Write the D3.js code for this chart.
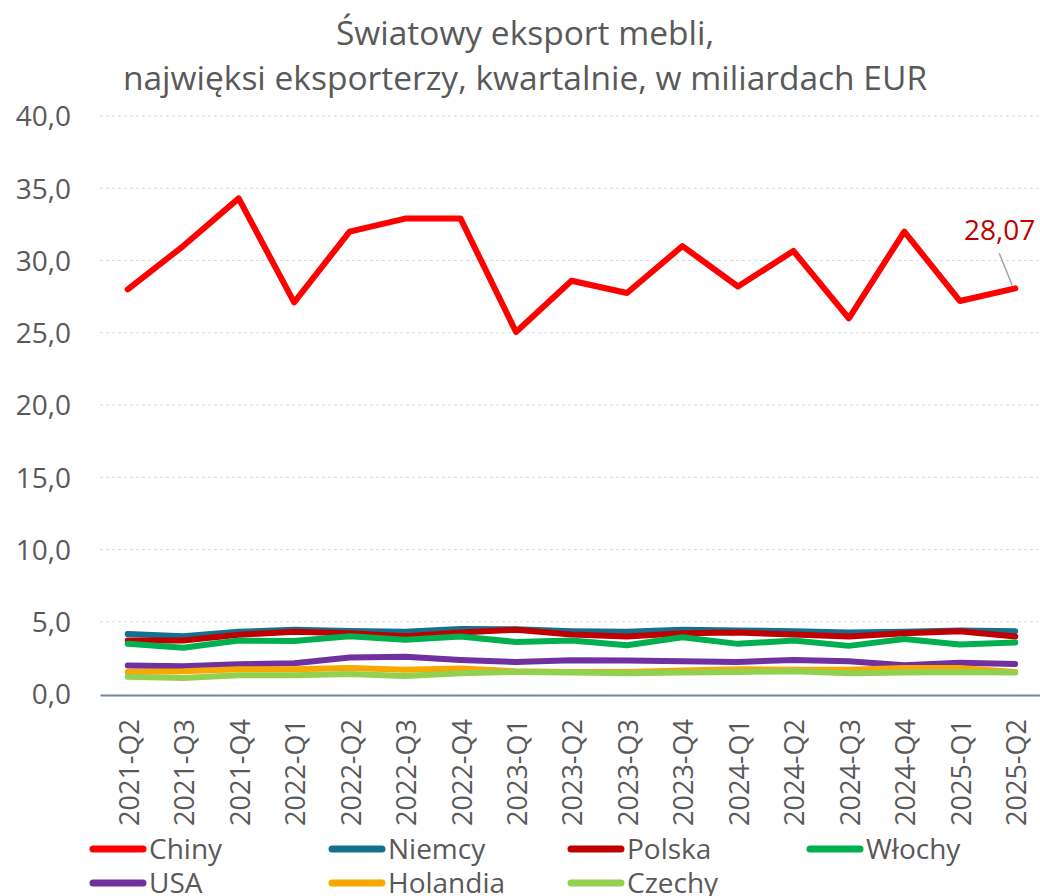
<!DOCTYPE html>
<html>
<head>
<meta charset="utf-8">
<script src="https://cdn.jsdelivr.net/npm/d3@7"></script>
<style>
  body { margin: 0; background: #fff; }
  text { font-family: "Open Sans", sans-serif; fill: #595959; }
</style>
</head>
<body>
<script>
var quarters = ["2021-Q2","2021-Q3","2021-Q4","2022-Q1","2022-Q2","2022-Q3","2022-Q4","2023-Q1","2023-Q2",
                "2023-Q3","2023-Q4","2024-Q1","2024-Q2","2024-Q3","2024-Q4","2025-Q1","2025-Q2"]

var chiny    = [28.0, 31.0, 34.3, 27.1, 32.0, 32.9, 32.9, 25.05, 28.6, 27.75, 31.0, 28.2, 30.66, 26.0, 32.0, 27.2, 28.07]
var niemcy   = [4.15, 4.0, 4.3, 4.45, 4.36, 4.3, 4.5, 4.48, 4.35, 4.3, 4.45, 4.4, 4.35, 4.25, 4.3, 4.4, 4.35]
var polska   = [3.7, 3.7, 4.1, 4.3, 4.2, 4.0, 4.25, 4.45, 4.12, 3.98, 4.2, 4.25, 4.12, 3.98, 4.2, 4.35, 3.98]
var wlochy   = [3.47, 3.2, 3.7, 3.66, 4.0, 3.75, 3.98, 3.6, 3.7, 3.38, 3.93, 3.47, 3.7, 3.33, 3.8, 3.42, 3.56]
var usa      = [1.97, 1.92, 2.06, 2.13, 2.52, 2.57, 2.36, 2.22, 2.34, 2.31, 2.27, 2.22, 2.36, 2.27, 1.99, 2.17, 2.08]
var holandia = [1.53, 1.57, 1.71, 1.71, 1.8, 1.67, 1.76, 1.57, 1.53, 1.53, 1.62, 1.71, 1.67, 1.67, 1.8, 1.8, 1.53]
var czechy   = [1.2, 1.11, 1.3, 1.3, 1.39, 1.25, 1.44, 1.53, 1.48, 1.44, 1.48, 1.53, 1.57, 1.44, 1.48, 1.53, 1.48]

var yTicks = [0, 5, 10, 15, 20, 25, 30, 35, 40]

var series = [
  {name: "Chiny", values: chiny, color: "#FF0000"},
  {name: "Niemcy", values: niemcy, color: "#13718E"},
  {name: "Polska", values: polska, color: "#C00000"},
  {name: "Włochy", values: wlochy, color: "#00B050"},
  {name: "USA", values: usa, color: "#7030A0"},
  {name: "Holandia", values: holandia, color: "#F8A800"},
  {name: "Czechy", values: czechy, color: "#92D050"}
]

var screen = {width: 1040, height: 896}

var svg = d3.select("body")
            .append("svg")
            .attr("width", screen.width)
            .attr("height", screen.height)

var x = d3.scalePoint()
          .domain(quarters)
          .range([100, 1043])
          .padding(0.5)

var y = d3.scaleLinear()
          .domain([0, 40])
          .range([694, 116])

// title
svg.append("text")
   .attr("x", 525).attr("y", 45)
   .attr("text-anchor", "middle")
   .style("font-size", "33.5px")
   .text("Światowy eksport mebli,")
svg.append("text")
   .attr("x", 525).attr("y", 90)
   .attr("text-anchor", "middle")
   .style("font-size", "33.5px")
   .text("najwięksi eksporterzy, kwartalnie, w miliardach EUR")

// grid
svg.append("g")
   .selectAll("line")
   .data(yTicks.filter(function(d) { return d > 0; }))
   .enter()
   .append("line")
   .attr("x1", 100).attr("x2", 1043)
   .attr("y1", function(d) { return y(d); })
   .attr("y2", function(d) { return y(d); })
   .attr("stroke", "#d9d9d9")
   .attr("stroke-dasharray", "3,3")

// y axis
var yAxis = svg.append("g")
   .attr("transform", "translate(100,0)")
   .call(d3.axisLeft(y).tickValues(yTicks).tickSize(0).tickPadding(29)
           .tickFormat(function(d) { return d3.format(".1f")(d).replace(".", ","); }))
yAxis.select(".domain").remove()
yAxis.selectAll("text").style("font-size", "28px").attr("dy", "0.35em")

// x axis
var xAxis = svg.append("g")
   .attr("transform", "translate(0," + (y(0) + 1) + ")")
   .call(d3.axisBottom(x).tickSize(0).tickPadding(0))
xAxis.select(".domain").attr("stroke", "#75869a").attr("stroke-width", 2)
xAxis.selectAll("text")
     .style("font-size", "27px")
     .attr("transform", "rotate(-90)")
     .attr("text-anchor", "end")
     .attr("x", -24)
     .attr("y", 1)
     .attr("dy", "0.35em")

// lines
var line = d3.line()
             .x(function(d, i) { return x(quarters[i]); })
             .y(function(d) { return y(d); })

svg.append("g")
   .selectAll("path")
   .data(series)
   .enter()
   .append("path")
   .attr("d", function(d) { return line(d.values); })
   .attr("fill", "none")
   .attr("stroke", function(d) { return d.color; })
   .attr("stroke-width", 6)
   .attr("stroke-linejoin", "round")
   .attr("stroke-linecap", "round")

// last value label
var last = chiny[chiny.length - 1]
var lx = x(quarters[quarters.length - 1]), ly = y(last)
svg.append("line")
   .attr("x1", lx - 16).attr("y1", ly - 35)
   .attr("x2", lx - 3).attr("y2", ly - 3)
   .attr("stroke", "#a6a6a6").attr("stroke-width", 1.5)
svg.append("text")
   .attr("x", lx + 20).attr("y", ly - 48)
   .attr("text-anchor", "end")
   .style("font-size", "28px")
   .style("fill", "#C00000")
   .text(d3.format(".2f")(last).replace(".", ","))

// legend
var legend = svg.append("g")
   .selectAll("g")
   .data(series)
   .enter()
   .append("g")
   .attr("transform", function(d, i) {
     return "translate(" + (93 + (i % 4) * 239) + "," + (849 + Math.floor(i / 4) * 34) + ")";
   })

legend.append("line")
      .attr("x1", 0).attr("x2", 50)
      .attr("y1", 0).attr("y2", 0)
      .attr("stroke", function(d) { return d.color; })
      .attr("stroke-width", 7)
      .attr("stroke-linecap", "round")

legend.append("text")
      .attr("x", 56).attr("y", 0)
      .attr("dy", "0.35em")
      .style("font-size", "28px")
      .text(function(d) { return d.name; })
</script>
</body>
</html>
